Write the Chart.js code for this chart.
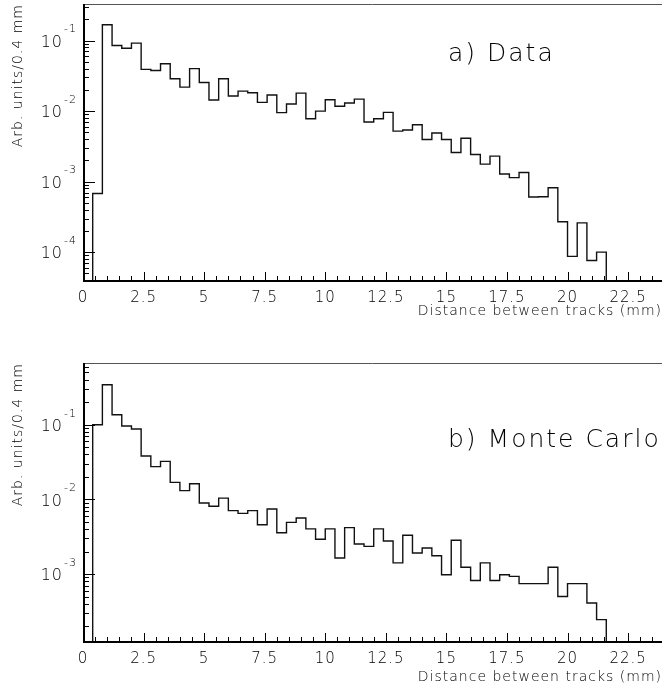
<!DOCTYPE html>
<html>
<head>
<meta charset="utf-8">
<script src="https://cdn.jsdelivr.net/npm/chart.js@4.4.1/dist/chart.umd.min.js"></script>
<style>
  html, body { margin: 0; padding: 0; background: #fff; overflow: hidden; }
  .panel { position: absolute; left: 0; width: 662px; }
</style>
</head>
<body>
<div class="panel" style="top:0;height:330px"><canvas id="dataChart"></canvas></div>
<div class="panel" style="top:330px;height:364px"><canvas id="mcChart"></canvas></div>
<script>
// 0.4 mm bins starting at 0
const binWidth = 0.4;
const xMax = 23.9;
const xTickLabels = [0, 2.5, 5, 7.5, 10, 12.5, 15, 17.5, 20, 22.5];

// a) Data
const dataValues = [
    0, 6.8e-4, 0.168, 0.085, 0.078, 0.092,
    0.039, 0.0377, 0.047, 0.0288, 0.0219, 0.040,
    0.0255, 0.0144, 0.0288, 0.0164, 0.0192, 0.0182,
    0.0133, 0.0169, 0.0095, 0.0126, 0.018, 0.0078,
    0.010, 0.0145, 0.0117, 0.0130, 0.0148, 0.0070,
    0.0078, 0.0096, 0.0052, 0.0054, 0.0064, 0.00395,
    0.0049, 0.00395, 0.00259, 0.00413, 0.00243, 0.00177,
    0.0023, 0.00128, 0.00114, 0.00135, 6.05e-4, 6.1e-4,
    8.2e-4, 2.7e-4, 8.7e-5, 2.6e-4, 7.6e-5, 1.0e-4,
    0, 0, 0, 0, 0, 0
];
// b) Monte Carlo
const mcValues = [
    0, 0.1, 0.343, 0.136, 0.096, 0.0875,
    0.0381, 0.0274, 0.0323, 0.0169, 0.0131, 0.0162,
    0.00895, 0.0081, 0.0104, 0.00706, 0.0065, 0.00706,
    0.00458, 0.00743, 0.00358, 0.00492, 0.00564, 0.00402,
    0.00292, 0.00402, 0.00164, 0.00418, 0.00253, 0.00235,
    0.00402, 0.00277, 0.00141, 0.0033, 0.00191, 0.00223,
    0.00176, 9.8e-4, 0.00283, 0.00123, 8.2e-4, 0.00141,
    8.2e-4, 9.8e-4, 9.3e-4, 7.45e-4, 7.45e-4, 7.45e-4,
    0.00123, 5.0e-4, 7.45e-4, 7.45e-4, 4.1e-4, 2.45e-4,
    0, 0, 0, 0, 0, 0
];

const dataDecades = [-4, -3, -2, -1];
const mcDecades = [-3, -2, -1];
const dataRange = [3.9e-5, 0.33];
const mcRange = [1.23e-4, 0.67];

const yTitle = 'Arb. units/0.4 mm';
const xTitle = 'Distance between tracks (mm)';
const FONT = '"DejaVu Sans", sans-serif';

// empty bins sit on the axis floor, like the original plot
function stepPoints(values, floor) {
    const pts = [{ x: 0, y: floor }];
    values.forEach((v, i) => {
        pts.push({ x: (i + 1) * binWidth, y: v > 0 ? v : floor });
    });
    return pts;
}

const framePlugin = {
    id: 'frame',
    beforeDraw(chart) {
        chart.ctx.letterSpacing = '1px';
    },
    afterDraw(chart, args, opts) {
        const ctx = chart.ctx;
        const a = chart.chartArea;
        const x = chart.scales.x;
        const y = chart.scales.y;
        ctx.save();
        ctx.strokeStyle = '#000';
        ctx.lineWidth = 1;

        // x ticks, pointing inwards
        for (let v = 0; v <= x.max; v += 0.5) {
            const px = Math.round(x.getPixelForValue(v)) + 0.5;
            const len = v % 2.5 === 0 ? 9 : 5;
            ctx.beginPath();
            ctx.moveTo(px, a.bottom);
            ctx.lineTo(px, a.bottom - len);
            ctx.stroke();
        }
        // y ticks
        const e0 = Math.floor(Math.log10(y.min));
        const e1 = Math.ceil(Math.log10(y.max));
        for (let e = e0; e <= e1; e++) {
            for (let m = 1; m <= 9; m++) {
                const v = m * Math.pow(10, e);
                if (v < y.min || v > y.max) continue;
                const py = Math.round(y.getPixelForValue(v)) + 0.5;
                const len = m === 1 ? 12 : 6;
                ctx.beginPath();
                ctx.moveTo(a.left, py);
                ctx.lineTo(a.left + len, py);
                ctx.stroke();
            }
        }

        // frame
        ctx.strokeStyle = '#555';
        ctx.beginPath();
        ctx.moveTo(a.left, a.top + 0.5);
        ctx.lineTo(a.right, a.top + 0.5);
        ctx.stroke();
        ctx.strokeStyle = '#000';
        ctx.lineWidth = 2;
        ctx.beginPath();
        ctx.moveTo(a.left + 1, a.top);
        ctx.lineTo(a.left + 1, a.bottom);
        ctx.lineTo(a.right, a.bottom);
        ctx.stroke();

        // decade labels 10^n
        ctx.fillStyle = '#000';
        ctx.textBaseline = 'middle';
        ctx.textAlign = 'right';
        ctx.letterSpacing = '1px';
        opts.decades.forEach(e => {
            const py = y.getPixelForValue(Math.pow(10, e));
            const exp = String(e);
            ctx.font = '300 11px ' + FONT;
            const w = ctx.measureText(exp).width;
            ctx.fillText(exp, a.left - 6, py - 11);
            ctx.font = '300 16px ' + FONT;
            ctx.fillText('10', a.left - 7 - w, py + 2);
        });

        // panel label
        ctx.textAlign = 'left';
        ctx.font = '300 25px ' + FONT;
        ctx.letterSpacing = '2px';
        ctx.fillText(opts.label, a.left + opts.labelX, a.top + opts.labelY);
        ctx.restore();
    }
};

function makeChart(id, values, range, decades, label, layout) {
    const ctx = document.getElementById(id).getContext('2d');
    return new Chart(ctx, {
        type: 'line',
        data: {
            datasets: [{
                data: stepPoints(values, range[0]),
                stepped: 'after',
                borderColor: '#111',
                borderWidth: 1.4,
                pointRadius: 0,
                fill: false
            }]
        },
        options: {
            responsive: true,
            maintainAspectRatio: false,
            animation: false,
            layout: { padding: { top: layout.padTop, right: 0, left: 0, bottom: 0 } },
            plugins: {
                legend: { display: false },
                tooltip: { enabled: false },
                frame: { decades: decades, label: label, labelX: 365, labelY: layout.labelY }
            },
            scales: {
                x: {
                    type: 'linear',
                    min: 0,
                    max: xMax,
                    grid: { display: false, drawTicks: false },
                    border: { display: false },
                    afterBuildTicks: scale => {
                        scale.ticks = xTickLabels.map(v => ({ value: v }));
                    },
                    afterFit: scale => { scale.height = layout.xAxisH; },
                    ticks: {
                        autoSkip: false,
                        maxRotation: 0,
                        padding: 8,
                        color: '#000',
                        font: { family: FONT, size: 15, weight: 300 },
                        callback: v => String(v)
                    },
                    title: {
                        display: true,
                        text: xTitle,
                        align: 'end',
                        color: '#000',
                        font: { family: FONT, size: 14, weight: 300 },
                        padding: { top: 0, bottom: layout.titlePad }
                    }
                },
                y: {
                    type: 'logarithmic',
                    min: range[0],
                    max: range[1],
                    grid: { display: false, drawTicks: false },
                    border: { display: false },
                    ticks: { display: false },
                    afterFit: scale => { scale.width = 83; },
                    title: {
                        display: true,
                        text: yTitle,
                        align: 'end',
                        color: '#000',
                        font: { family: FONT, size: 14, weight: 300 },
                        padding: { top: 10, bottom: 0 }
                    }
                }
            }
        },
        plugins: [framePlugin]
    });
}

makeChart('dataChart', dataValues, dataRange, dataDecades, 'a) Data',
    { padTop: 4, xAxisH: 49, titlePad: 10, labelY: 50 });
makeChart('mcChart', mcValues, mcRange, mcDecades, 'b) Monte Carlo',
    { padTop: 33, xAxisH: 52, titlePad: 8, labelY: 77 });
</script>
</body>
</html>
